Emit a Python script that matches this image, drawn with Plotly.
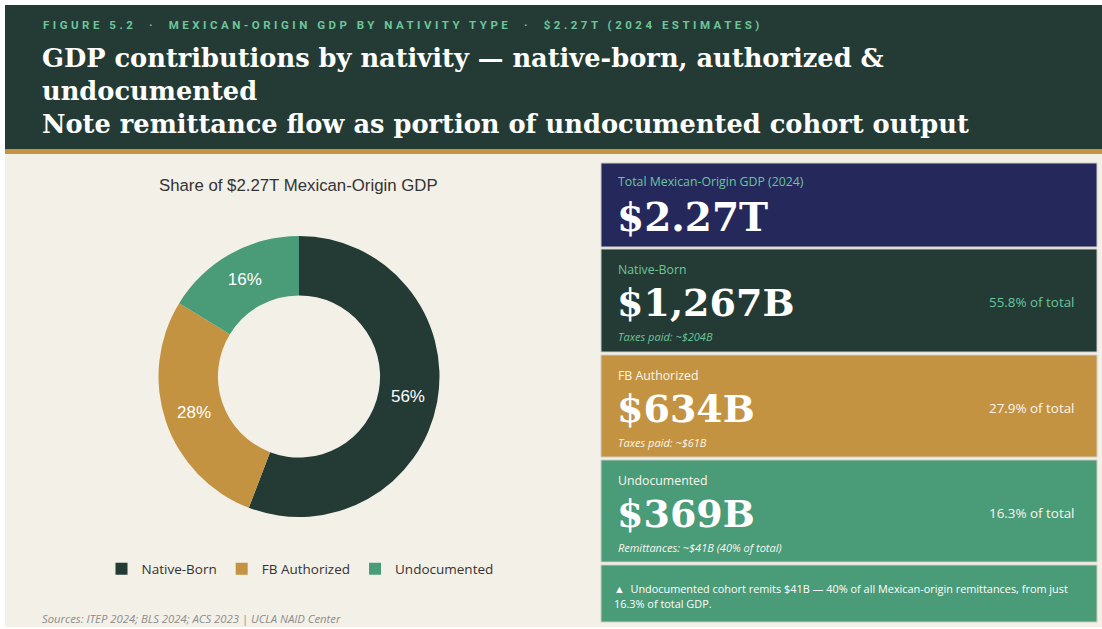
import plotly.graph_objects as go

# ---- data ----
categories = ["Native-Born", "FB Authorized", "Undocumented"]
gdp_billions = [1267, 634, 369]
card_notes = ["Taxes paid: ~$204B", "Taxes paid: ~$61B", "Remittances: ~$41B (40% of total)"]
total_label = "Total Mexican-Origin GDP (2024)"
note_lines = [
    "\u25B2\u00a0 Undocumented cohort remits $41B \u2014 40% of all Mexican-origin remittances, from just",
    "16.3% of total GDP.",
]

total_b = sum(gdp_billions)
shares = [v / total_b * 100 for v in gdp_billions]

# ---- palette ----
HEADER = "#233b34"
GOLD = "#c39342"
CREAM = "#f3f0e8"
NAVY = "#24285b"
GREEN = "#4a9b78"
TEAL = "#6dc59c"
slice_colors = [HEADER, GOLD, GREEN]

W, H = 1102, 629


def px(x):
    return x / W


def py(y):
    return 1 - y / H


fig = go.Figure()

# donut centred at (299, 376.5), outer radius 140.5
cx, cy, r = 299, 376.5, 140.5
fig.add_trace(go.Pie(
    labels=categories,
    values=gdp_billions,
    hole=0.577,
    sort=False,
    direction="clockwise",
    rotation=0,
    marker=dict(colors=slice_colors, line=dict(width=0)),
    texttemplate="%{percent:.0%}",
    textposition="inside",
    insidetextorientation="horizontal",
    textfont=dict(family="Liberation Sans, Arial, sans-serif", size=17, color="#ffffff"),
    domain=dict(x=[px(cx - r), px(cx + r)], y=[py(cy + r), py(cy - r)]),
    hoverinfo="label+value+percent",
))

shapes = []
annotations = []


def rect(x0, y0, x1, y1, color, line=None):
    shapes.append(dict(
        type="rect", xref="paper", yref="paper",
        x0=px(x0), x1=px(x1), y0=py(y1), y1=py(y0),
        fillcolor=color, line=line or dict(width=0), layer="below",
    ))


def text(x, y, s, size, color, family="Open Sans, sans-serif", xanchor="left", bold=False, italic=False):
    if bold:
        s = f"<b>{s}</b>"
    if italic:
        s = f"<i>{s}</i>"
    annotations.append(dict(
        x=px(x), y=py(y), xref="paper", yref="paper", text=s, showarrow=False,
        xanchor=xanchor, yanchor="middle", align="left",
        font=dict(family=family, size=size, color=color),
    ))


# page background, header band and gold rule
rect(5, 5, W, H - 2, CREAM)
rect(5, 5, W, 149, HEADER)
rect(5, 149, W, 154, GOLD)

SERIF = "DejaVu Serif, Georgia, serif"

# header texts
kicker = ("FIGURE 5.2\u00a0\u00a0\u00b7\u00a0\u00a0MEXICAN-ORIGIN GDP BY NATIVITY TYPE"
          "\u00a0\u00a0\u00b7\u00a0\u00a0$2.27T (2024 ESTIMATES)")
text(41, 25, f'<span style="letter-spacing:3.5px">{kicker}</span>', 11.5, TEAL,
     family="Roboto, sans-serif", bold=True)
title_lines = [
    "GDP contributions by nativity \u2014 native-born, authorized &",
    "undocumented",
    "Note remittance flow as portion of undocumented cohort output",
]
for yy, line in zip([58, 91, 124], title_lines):
    text(40, yy, line, 25.7, "#ffffff", family=SERIF, bold=True)

# donut subtitle and sources
text(299, 185, "Share of $2.27T Mexican-Origin GDP", 16.8, "#333333",
     family="Liberation Sans, Arial, sans-serif", xanchor="center")
text(40, 618, "Sources: ITEP 2024; BLS 2024; ACS 2023 | UCLA NAID Center", 11.3, "#8c8c8c",
     italic=True)

# ---- stat cards ----
CX0, CX1 = 601, 1097
border = dict(color="#cfcbc6", width=1)

# total card
rect(CX0, 163, CX1, 247, NAVY, border)
text(616, 182, total_label, 12.3, TEAL)
text(615, 217, f"${total_b / 1000:.2f}T", 39, "#ffffff", family=SERIF, bold=True)

card_boxes = [(249, 352), (355, 457), (460, 562)]
card_fills = [HEADER, GOLD, GREEN]
label_colors = [TEAL, "#fbf6ec", "#fbf6ec"]
for (y0, y1), fill, lc, cat, val, share, note in zip(
        card_boxes, card_fills, label_colors, categories, gdp_billions, shares, card_notes):
    rect(CX0, y0, CX1, y1, fill, border)
    text(616, y0 + 20, cat, 12.3, lc)
    text(615, y0 + 53, f"${val:,}B", 38, "#ffffff", family=SERIF, bold=True)
    text(616, y0 + 87, note, 11, lc, italic=True)
    text(1077, y0 + 53, f"{share:.1f}% of total", 13.4, lc, xanchor="right")

# remittance note card
rect(CX0, 565, CX1, 622, GREEN, border)
text(612, 588, note_lines[0], 10.9, "#ffffff")
text(612, 603, note_lines[1], 10.9, "#ffffff")

fig.update_layout(
    width=W, height=H,
    margin=dict(l=0, r=0, t=0, b=0),
    paper_bgcolor="#ffffff",
    plot_bgcolor="#ffffff",
    shapes=shapes,
    annotations=annotations,
    showlegend=True,
    legend=dict(
        orientation="h", x=px(300), xanchor="center", y=py(569), yanchor="middle",
        font=dict(family="Open Sans, sans-serif", size=13.5, color="#333333"),
        bgcolor="rgba(0,0,0,0)", itemwidth=30, traceorder="normal",
    ),
)

fig.write_html("out.html", config={"displayModeBar": False})
